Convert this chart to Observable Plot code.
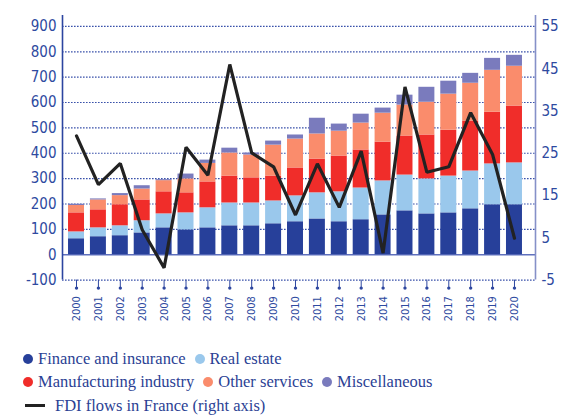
<!DOCTYPE html>
<html>
<head>
<meta charset="utf-8">
<script src="https://cdn.jsdelivr.net/npm/d3@7"></script>
<script src="https://cdn.jsdelivr.net/npm/@observablehq/plot@0.6"></script>
<style>
  html, body { margin: 0; padding: 0; background: #fff; }
  #chart svg { display: block; }
  .narrow { font-family: "Liberation Sans Narrow", "DejaVu Sans Condensed", "Roboto Condensed", Roboto, sans-serif; font-stretch: condensed; }
  #legend { margin-top: 17px; padding-left: 23px; font-family: "Liberation Serif", "DejaVu Serif", serif; font-size: 16.5px; color: #2b3f94; }
  #legend .row { display: flex; align-items: center; height: 23.5px; }
  #legend .item { display: flex; align-items: center; margin-right: 9px; }
  #legend .sw { width: 10px; height: 10px; border-radius: 50%; margin-right: 5px; }
  #legend .ln { width: 20px; height: 3px; background: #222; margin-right: 10px; margin-left: 2px; }
</style>
</head>
<body>
<div id="chart"></div>
<div id="legend"></div>
<script>
const years = d3.range(2000, 2021);
const sectors = ["Finance and insurance", "Real estate", "Manufacturing industry", "Other services", "Miscellaneous"];
const colors = ["#27409a", "#9ac8ec", "#f02d2a", "#fa8c6c", "#7a7bbd"];
const finance       = [63, 71, 75, 86, 106, 98, 106, 114, 114, 122, 130, 141, 130, 138, 157, 173, 161, 165, 181, 197, 197];
const realEstate    = [27, 35, 39, 48, 55, 67, 79, 90, 90, 90, 102, 103, 118, 125, 134, 141, 138, 145, 149, 161, 165];
const manufacturing = [75, 71, 83, 82, 87, 79, 102, 106, 99, 98, 110, 133, 141, 150, 153, 154, 173, 181, 197, 204, 224];
const otherServices = [29, 39, 36, 43, 44, 55, 73, 91, 90, 122, 114, 99, 98, 106, 114, 122, 129, 142, 149, 165, 157];
const miscellaneous = [5, 4, 8, 13, 4, 19, 13, 19, 8, 16, 16, 62, 28, 35, 20, 39, 59, 51, 39, 47, 43];
const fdiFlows      = [29.1, 17.6, 22.6, 6.9, -2.1, 26.4, 19.8, 46.0, 25.1, 21.8, 10.4, 22.5, 12.2, 25.5, 1.4, 40.7, 20.5, 21.8, 34.6, 24.7, 4.9];
const leftTicks  = [-100, 0, 100, 200, 300, 400, 500, 600, 700, 800, 900];
const rightTicks = [-5, 5, 15, 25, 35, 45, 55];

// right axis (-5..55) shares the frame with left axis (-100..900)
const toLeft = r => (r + 5) * 1000 / 60 - 100;
const fromLeft = l => (l + 100) * 60 / 1000 - 5;

const series = [finance, realEstate, manufacturing, otherServices, miscellaneous];
const segs = [];
years.forEach((yr, i) => {
  let acc = 0;
  series.forEach((s, k) => {
    segs.push({year: yr, sector: sectors[k], y1: acc, y2: acc + s[i]});
    acc += s[i];
  });
});
const fdi = years.map((yr, i) => ({year: yr, v: toLeft(fdiFlows[i])}));

const xDom = [1999.36, 2020.96];
const yDom = [-100, 943];
const axisColor = "#2e47a0";
const halfW = 0.365;

const plot = Plot.plot({
  width: 562,
  height: 330,
  marginLeft: 62,
  marginRight: 27,
  marginTop: 15,
  marginBottom: 50.4,
  x: {type: "linear", domain: xDom},
  y: {domain: yDom},
  color: {domain: sectors, range: colors},
  style: {background: "transparent"},
  marks: [
    Plot.ruleY(leftTicks.filter(t => t !== 0), {stroke: "#3a52aa", strokeWidth: 1.2, strokeDasharray: "1.6,1.4"}),
    Plot.ruleY([0], {stroke: "#5f70bd", strokeWidth: 1.5}),
    Plot.rectY(segs, {x1: d => d.year - halfW, x2: d => d.year + halfW, y1: "y1", y2: "y2", fill: "sector"}),
    Plot.line(fdi, {x: "year", y: "v", stroke: "#222", strokeWidth: 3.2, strokeLinejoin: "miter"}),
    Plot.ruleX([xDom[0]], {stroke: "#2c45a0", strokeWidth: 1.6}),
    Plot.ruleX([xDom[1]], {stroke: "#8590c8", strokeWidth: 1.6}),
    Plot.dot(years, {x: d => d, y: () => -100, dy: 8, r: 1.7, fill: axisColor, stroke: null}),
    Plot.axisY({anchor: "left", ticks: leftTicks, tickFormat: d => String(d), tickSize: 0, tickPadding: 6, fontSize: 15, fill: "#2e4aa0", className: "narrow", label: null}),
    Plot.axisY({anchor: "right", ticks: rightTicks.map(toLeft), tickFormat: d => String(Math.round(fromLeft(d))), tickSize: 0, tickPadding: 6, fontSize: 15, fill: "#2e4aa0", className: "narrow", label: null}),
    Plot.axisX({ticks: years, tickFormat: d => String(d), tickSize: 8, tickPadding: 8, tickRotate: -90, stroke: axisColor, strokeWidth: 1, fontSize: 11, fill: "#2e4aa0", className: "narrow", label: null})
  ]
});
document.getElementById("chart").appendChild(plot);

// legend
const legend = document.getElementById("legend");
const rows = [[0, 1], [2, 3, 4]];
rows.forEach(r => {
  const row = document.createElement("div");
  row.className = "row";
  r.forEach(k => {
    const it = document.createElement("div");
    it.className = "item";
    it.innerHTML = `<span class="sw" style="background:${colors[k]}"></span><span>${sectors[k]}</span>`;
    row.appendChild(it);
  });
  legend.appendChild(row);
});
const row3 = document.createElement("div");
row3.className = "row";
row3.innerHTML = `<div class="item"><span class="ln"></span><span>FDI flows in France (right axis)</span></div>`;
legend.appendChild(row3);
</script>
</body>
</html>
